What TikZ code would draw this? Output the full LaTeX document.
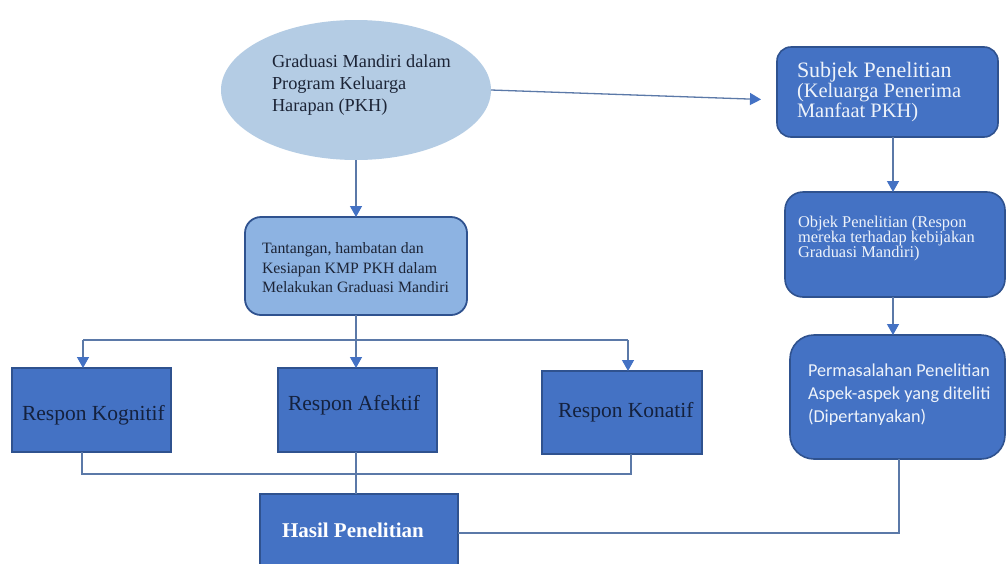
\documentclass[tikz,border=0pt]{standalone}
\usepackage{fontspec}
\setmainfont{Liberation Serif}
\newfontfamily\calib{Carlito}
\usetikzlibrary{arrows.meta,shapes.geometric}
\definecolor{ellfill}{HTML}{B4CCE4}
\definecolor{tanfill}{HTML}{8DB3E2}
\definecolor{boxfill}{HTML}{4472C4}
\definecolor{boxline}{HTML}{2F528F}
\definecolor{conn}{HTML}{5B79A8}
\definecolor{arrowc}{HTML}{4472C4}
\definecolor{darktext}{HTML}{1C2436}
\definecolor{navytext}{HTML}{14213D}
\definecolor{lighttext}{HTML}{EEF3FA}
\begin{document}
\begin{tikzpicture}[x=1pt,y=-1pt,
  conline/.style={draw=conn, line width=1.3pt},
  arr/.style={conline, -{Triangle[width=12pt,length=11pt,color=arrowc]}},
  shapebox/.style={inner sep=0pt, outer sep=0pt},
  roundbox/.style={shapebox, rectangle, rounded corners=14pt, fill=boxfill, draw=boxline, line width=1.6pt},
  sharpbox/.style={shapebox, rectangle, fill=boxfill, draw=boxline, line width=1.6pt},
  txt/.style={inner sep=0pt, outer sep=0pt, anchor=west, align=left},
]
\useasboundingbox (0,0) rectangle (1006,563);
\fill[white] (0,0) rectangle (1006,563);

% shapes
\node[shapebox, ellipse, fill=ellfill, minimum width=270pt, minimum height=140pt] (ell) at (356,90) {};
\node[shapebox, rectangle, rounded corners=16pt, fill=tanfill, draw=boxline, line width=1.8pt,
      minimum width=222pt, minimum height=98pt] (tan) at (356,266) {};
\node[roundbox, minimum width=221pt, minimum height=90pt] (subj) at (887.5,92) {};
\node[roundbox, rounded corners=18pt, minimum width=220pt, minimum height=105pt] (obj) at (895,244.5) {};
\node[roundbox, rounded corners=24pt, minimum width=215pt, minimum height=124pt] (perm) at (897.5,397) {};
\node[sharpbox, minimum width=159pt, minimum height=84pt] (kog) at (91.5,410) {};
\node[sharpbox, minimum width=159pt, minimum height=84pt] (afe) at (357.5,410) {};
\node[sharpbox, minimum width=160pt, minimum height=83pt] (kon) at (622,412.5) {};
\node[sharpbox, minimum width=198pt, minimum height=76pt] (has) at (359,532) {};

% texts
\node[txt, text=darktext, font=\fontsize{18.3}{22}\selectfont] (tell) at (272,85)
  {Graduasi Mandiri dalam\\Program Keluarga\\Harapan (PKH)};
\node[txt, text=darktext, font=\fontsize{15.8}{19.5}\selectfont] (ttan) at (262,268)
  {Tantangan, hambatan dan\\Kesiapan KMP PKH dalam\\Melakukan Graduasi Mandiri};
\node[txt, text=lighttext, font=\fontsize{20.5}{20}\selectfont] (tsubj) at (797,92)
  {{\fontsize{22}{22}\selectfont Subjek Penelitian}\\(Keluarga Penerima\\Manfaat PKH)};
\node[txt, text=lighttext, font=\fontsize{16.4}{15}\selectfont] (tobj) at (798,239)
  {Objek Penelitian (Respon\\mereka terhadap kebijakan\\Graduasi Mandiri)};
\node[txt, text=lighttext, font=\calib\fontsize{18.2}{23}\selectfont] (tperm) at (808,395)
  {Permasalahan Penelitian\\Aspek-aspek yang diteliti\\(Dipertanyakan)};
\node[txt, text=navytext, font=\fontsize{21.5}{24}\selectfont] (tkog) at (22,415) {Respon Kognitif};
\node[txt, text=navytext, font=\fontsize{21.5}{24}\selectfont] (tafe) at (288,405) {Respon Afektif};
\node[txt, text=navytext, font=\fontsize{21.5}{24}\selectfont] (tkon) at (558,412) {Respon Konatif};
\node[txt, text=white, font=\bfseries\fontsize{21}{24}\selectfont] (thas) at (282,530) {Hasil Penelitian};

% junction coordinates
\coordinate (jl) at (83,340);
\coordinate (jm) at (356,340);
\coordinate (jr) at (628,340);
\coordinate (bl) at (82,474);
\coordinate (br) at (631,474);
\coordinate (rx) at (893,0);
\coordinate (px) at (899,533);

% connectors
\draw[arr, shorten >=16pt] (ell.east) -- ([yshift=-8pt]subj.west);
\draw[arr] (ell.south) -- (tan.north);
\draw[conline] (tan.south) -- (jm);
\draw[conline] (jl) -- (jr);
\draw[arr] (jl) -- (jl |- kog.north);
\draw[arr] (jm) -- (jm |- afe.north);
\draw[arr] (jr) -- (jr |- kon.north);
\draw[conline] (bl |- kog.south) -- (bl) -- (br) -- (br |- kon.south);
\draw[conline] (jm |- afe.south) -- (jm |- has.north);
\draw[arr] (rx |- subj.south) -- (rx |- obj.north);
\draw[arr] (rx |- obj.south) -- (rx |- perm.north);
\draw[conline] (px |- perm.south) -- (px) -- (has.east |- px);
\end{tikzpicture}
\end{document}
